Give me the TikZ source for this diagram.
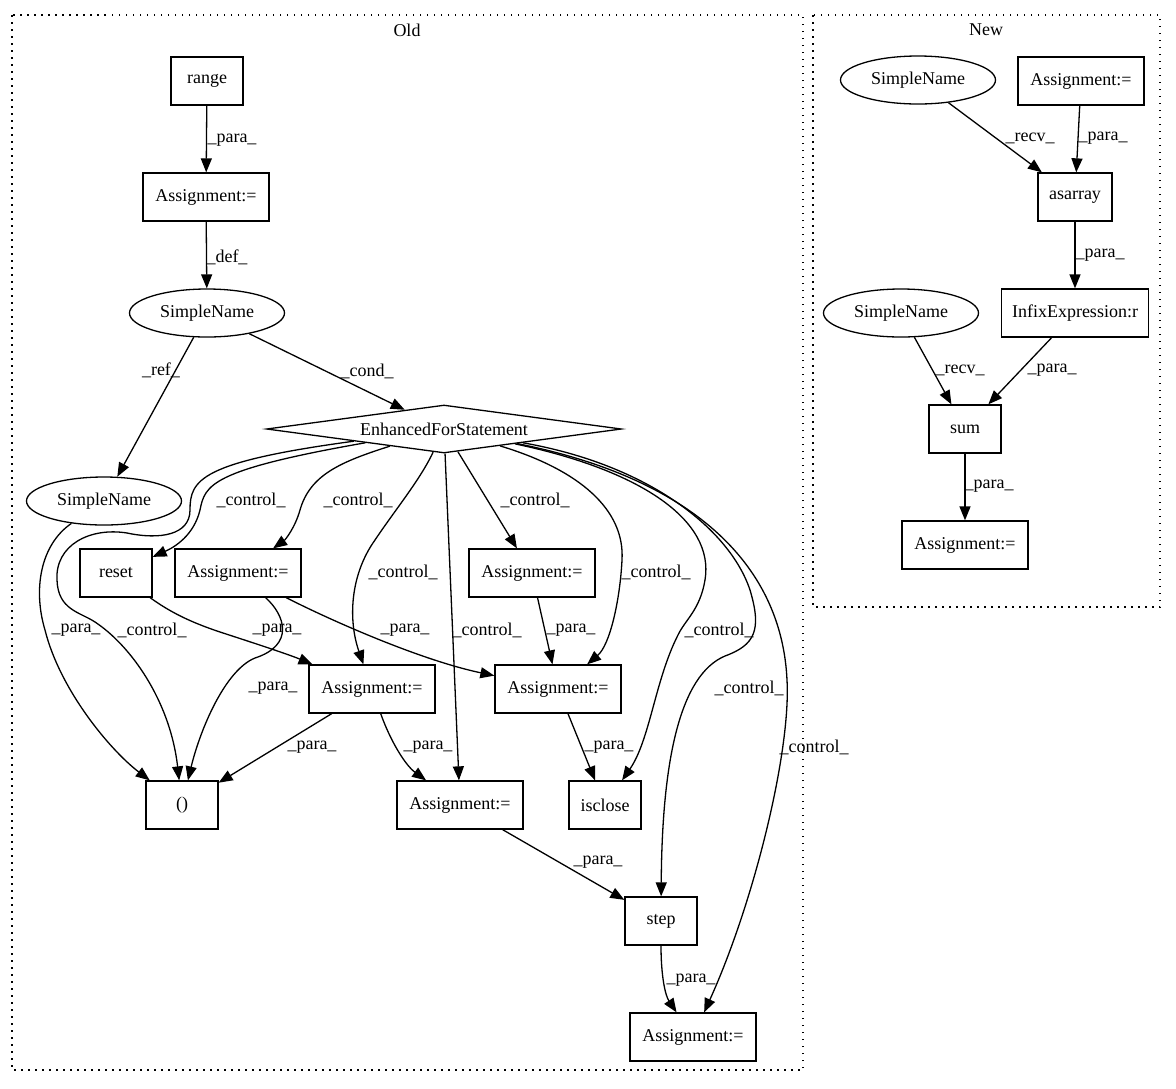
\documentclass[tikz,border=0pt]{standalone}
\usepackage{fontspec}
\setmainfont{Liberation Serif}
\usetikzlibrary{arrows.meta,shapes.geometric}

\begin{document}
\begin{tikzpicture}[x=1pt,y=-1pt,
		font=\fontsize{18pt}{21pt}\selectfont,
		box/.style={draw,line width=1.3pt,rectangle,inner sep=0pt,minimum height=48pt,minimum width=#1},
		box/.default=72pt,
		oval/.style={draw,line width=1.3pt,ellipse,inner sep=0pt,minimum width=155pt,minimum height=48pt},
		cond/.style={draw,line width=1.3pt,diamond,aspect=7.5,inner sep=0pt,minimum width=355pt,minimum height=48pt},
		flow/.style={line width=1.3pt,-{Triangle[length=14pt,width=11pt]}},
		lbl/.style={inner sep=0pt},
		cluster/.style={line width=1.3pt,dash pattern=on 1.5pt off 5.5pt}]
	\useasboundingbox (0,0) rectangle (1176,1088);
	\draw[cluster] (12,15) rectangle (803,1070);
	\draw[cluster] (813,15) rectangle (1160,607);
	\node (old) at (407,30) {Old};
	\node (new) at (986,30) {New};
	%
	\node[box] (rng) at (207,81) {range};
	\node[box=126pt] (a1) at (206,197) {Assignment:=};
	\node[oval] (sn1) at (207,313) {SimpleName};
	\node[cond] (efs) at (444,429) {EnhancedForStatement};
	\node[oval] (sn2) at (104,501) {SimpleName};
	\node[box] (rst) at (116,573) {reset};
	\node[box=126pt] (a2) at (238,573) {Assignment:=};
	\node[box=126pt] (a3) at (532,573) {Assignment:=};
	\node[box=126pt] (a4) at (372,689) {Assignment:=};
	\node[box=126pt] (a5) at (558,689) {Assignment:=};
	\node[box] (tup) at (182,805) {()};
	\node[box=126pt] (a6) at (460,805) {Assignment:=};
	\node[box] (iscl) at (605,805) {isclose};
	\node[box] (stp) at (661,921) {step};
	\node[box=126pt] (a7) at (693,1037) {Assignment:=};
	%
	\node[oval] (sn3) at (918,80) {SimpleName};
	\node[box=126pt] (b1) at (1081,81) {Assignment:=};
	\node[box=74pt] (asar) at (1075,197) {asarray};
	\node[oval] (sn4) at (901,313) {SimpleName};
	\node[box=147pt] (infx) at (1075,313) {InfixExpression:r};
	\node[box] (sm) at (965,429) {sum};
	\node[box=126pt] (b2) at (965,545) {Assignment:=};
	%
	\draw[flow] (rng) -- (a1);
	\draw[flow] (a1) -- (sn1);
	\draw[flow] (sn1) -- (efs);
	\draw[flow] (sn1) -- (sn2);
	\draw[flow] (efs) .. controls (210,470) and (205,485) .. (200,510) .. controls (194,535) and (175,547) .. (rst);
	\draw[flow] (efs) .. controls (200,462) and (190,480) .. (190,510) .. controls (190,535) and (160,540) .. (127,533)
		.. controls (90,527) and (55,545) .. (57,580) .. controls (58,610) and (80,612) .. (95,622)
		.. controls (130,645) and (170,700) .. (tup);
	\draw[flow] (efs) .. controls (340,462) and (310,475) .. (300,510) .. controls (295,528) and (285,540) .. (a2);
	\draw[flow] (efs) .. controls (420,480) and (395,510) .. (375,540) .. controls (350,575) and (348,620) .. (a4);
	\draw[flow] (efs) -- (a6);
	\draw[flow] (efs) -- (a3);
	\draw[flow] (efs) .. controls (580,470) and (625,510) .. (622,560) .. controls (620,600) and (610,645) .. (a5);
	\draw[flow] (efs) .. controls (640,470) and (715,520) .. (705,580) .. controls (700,610) and (685,620) .. (678,635)
		.. controls (655,680) and (650,740) .. (iscl);
	\draw[flow] (efs) .. controls (650,465) and (730,530) .. (750,590) .. controls (762,630) and (755,645) .. (725,656)
		.. controls (680,675) and (662,760) .. (stp);
	\draw[flow] (efs) .. controls (700,480) and (782,570) .. (787,680) .. controls (791,750) and (755,900) .. (a7);
	\draw[flow] (sn2) .. controls (40,545) and (33,590) .. (45,630) .. controls (60,690) and (110,750) .. (tup);
	\draw[flow] (rst) .. controls (170,612) and (190,622) .. (220,632) .. controls (260,645) and (290,655) .. (a4);
	\draw[flow] (a2) .. controls (285,615) and (295,645) .. (255,658) .. controls (225,670) and (200,730) .. (tup);
	\draw[flow] (a2) .. controls (330,620) and (420,660) .. (a5);
	\draw[flow] (a3) -- (a5);
	\draw[flow] (a4) -- (tup);
	\draw[flow] (a4) .. controls (390,740) and (405,765) .. (a6);
	\draw[flow] (a5) -- (iscl);
	\draw[flow] (a6) -- (stp);
	\draw[flow] (stp) .. controls (661,975) and (665,995) .. (a7);
	%
	\draw[flow] (sn3) -- (asar);
	\draw[flow] (b1) -- (asar);
	\draw[flow] (asar) -- (infx);
	\draw[flow] (sn4) -- (sm);
	\draw[flow] (infx) -- (sm);
	\draw[flow] (sm) -- (b2);
	%
	\node[lbl] (p1) at (232,140) {\_para\_};
	\node[lbl] (d1) at (227,257) {\_def\_};
	\node[lbl] (k1) at (367,371) {\_cond\_};
	\node[lbl] (r1) at (161,370) {\_ref\_};
	\node[lbl] (c1) at (251,500) {\_control\_};
	\node[lbl] (c2) at (358,500) {\_control\_};
	\node[lbl] (c3) at (535,500) {\_control\_};
	\node[lbl] (c4) at (403,572) {\_control\_};
	\node[lbl] (c5) at (656,572) {\_control\_};
	\node[lbl] (c6) at (152,630) {\_control\_};
	\node[lbl] (c7) at (487,630) {\_control\_};
	\node[lbl] (c8) at (719,630) {\_control\_};
	\node[lbl] (c9) at (749,688) {\_control\_};
	\node[lbl] (c10) at (814,747) {\_control\_};
	\node[lbl] (p2) at (76,630) {\_para\_};
	\node[lbl] (p3) at (277,630) {\_para\_};
	\node[lbl] (p4) at (405,630) {\_para\_};
	\node[lbl] (p5) at (571,630) {\_para\_};
	\node[lbl] (p6) at (273,688) {\_para\_};
	\node[lbl] (p7) at (312,747) {\_para\_};
	\node[lbl] (p8) at (428,747) {\_para\_};
	\node[lbl] (p9) at (609,747) {\_para\_};
	\node[lbl] (p10) at (598,862) {\_para\_};
	\node[lbl] (p11) at (691,980) {\_para\_};
	%
	\node[lbl] (r2) at (1030,138) {\_recv\_};
	\node[lbl] (p12) at (1103,138) {\_para\_};
	\node[lbl] (p13) at (1100,255) {\_para\_};
	\node[lbl] (r3) at (960,370) {\_recv\_};
	\node[lbl] (p14) at (1052,370) {\_para\_};
	\node[lbl] (p15) at (989,486) {\_para\_};
\end{tikzpicture}
\end{document}
